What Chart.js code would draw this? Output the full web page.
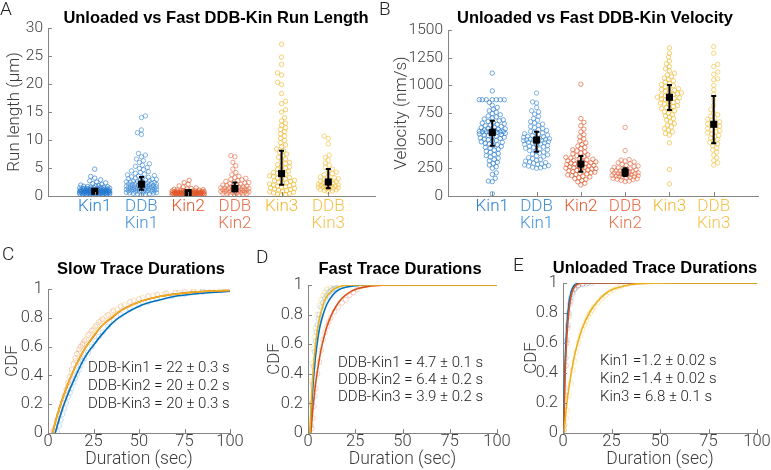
<!DOCTYPE html>
<html><head><meta charset="utf-8">
<script src="https://cdn.jsdelivr.net/npm/chart.js@4.4.1/dist/chart.umd.min.js"></script>
<style>
body{margin:0;background:#fff;width:771px;height:470px;position:relative;overflow:hidden;font-family:Roboto,'Liberation Sans',sans-serif;}
canvas{position:absolute;}
.t{position:absolute;font-family:'Liberation Sans',Arial,sans-serif;font-weight:bold;font-size:16.5px;line-height:1;color:#000;white-space:nowrap;transform:translate(-50%,-50%);}
.l{position:absolute;font-weight:300;font-size:19px;line-height:19px;color:#222;}
.n{position:absolute;font-weight:300;font-size:15px;color:#222;white-space:nowrap;}
</style></head><body>
<canvas id="cA" width="390" height="245" style="left:0;top:0"></canvas>
<canvas id="cB" width="381" height="245" style="left:390px;top:0"></canvas>
<canvas id="cC" width="255" height="230" style="left:0;top:240px"></canvas>
<canvas id="cD" width="255" height="230" style="left:255px;top:240px"></canvas>
<canvas id="cE" width="261" height="230" style="left:510px;top:240px"></canvas>

<div class="l" style="left:0;top:-1px">A</div>
<div class="l" style="left:379px;top:-1px">B</div>
<div class="l" style="left:2px;top:244px">C</div>
<div class="l" style="left:256px;top:247px">D</div>
<div class="l" style="left:513px;top:255px">E</div>

<div class="t" style="left:216px;top:17px">Unloaded vs Fast DDB-Kin Run Length</div>
<div class="t" style="left:595px;top:17px">Unloaded vs Fast DDB-Kin Velocity</div>
<div class="t" style="left:141px;top:268px">Slow Trace Durations</div>
<div class="t" style="left:400px;top:268px">Fast Trace Durations</div>
<div class="t" style="left:655px;top:267px">Unloaded Trace Durations</div>

<div class="n" style="left:88px;top:358px;line-height:18px">DDB-Kin1 = 22 ± 0.3 s<br>DDB-Kin2 = 20 ± 0.2 s<br>DDB-Kin3 = 20 ± 0.3 s</div>
<div class="n" style="left:338px;top:354px;line-height:17px">DDB-Kin1 = 4.7 ± 0.1 s<br>DDB-Kin2 = 6.4 ± 0.2 s<br>DDB-Kin3 = 3.9 ± 0.2 s</div>
<div class="n" style="left:600px;top:351px;line-height:18px">Kin1 =1.2 ± 0.02 s<br>Kin2 =1.4 ± 0.02 s<br>Kin3 = 6.8 ± 0.1 s</div>

<script>
// ---------------- DATA ----------------
const categories = [['Kin1'], ['DDB', 'Kin1'], ['Kin2'], ['DDB', 'Kin2'], ['Kin3'], ['DDB', 'Kin3']];

// Panel A: run length (µm)
const runKin1 = [0.18,0.22,0.25,0.27,0.3,0.31,0.33,0.35,0.36,0.38,0.4,0.41,0.42,0.44,0.45,0.47,0.48,0.5,0.5,0.51,0.53,0.54,0.55,0.57,0.58,0.6,0.6,0.61,0.62,0.64,0.65,0.66,0.68,0.69,0.7,0.7,0.71,0.73,0.74,0.75,0.76,0.78,0.79,0.8,0.8,0.81,0.83,0.84,0.85,0.87,0.88,0.9,0.9,0.91,0.93,0.94,0.96,0.97,0.99,1.0,1.0,1.02,1.03,1.05,1.07,1.09,1.1,1.12,1.14,1.16,1.18,1.2,1.22,1.25,1.27,1.3,1.32,1.35,1.38,1.41,1.45,1.48,1.52,1.56,1.6,1.64,1.69,1.74,1.8,1.88,1.95,2.05,2.2,2.35,2.5,2.7,2.9,3.2,3.5,4.8];
const runDDBKin1 = [0.25,0.3,0.36,0.42,0.47,0.52,0.56,0.6,0.64,0.68,0.72,0.76,0.8,0.84,0.88,0.92,0.95,0.98,1.02,1.05,1.08,1.12,1.15,1.18,1.21,1.25,1.28,1.31,1.34,1.38,1.41,1.44,1.48,1.51,1.54,1.58,1.61,1.64,1.68,1.71,1.75,1.78,1.82,1.86,1.9,1.94,1.98,2.02,2.06,2.1,2.14,2.18,2.23,2.28,2.33,2.38,2.43,2.48,2.54,2.6,2.66,2.72,2.79,2.86,2.93,3.0,3.08,3.16,3.25,3.34,3.44,3.55,3.66,3.78,3.9,4.05,4.2,4.35,4.5,4.7,4.9,5.1,5.3,5.5,5.75,6.0,6.3,6.6,7.0,7.3,7.6,11.0,11.3,11.8,14.0,14.3];
const runKin2 = [0.06,0.09,0.12,0.14,0.16,0.18,0.2,0.21,0.23,0.24,0.26,0.27,0.28,0.3,0.31,0.32,0.33,0.35,0.36,0.37,0.38,0.39,0.4,0.41,0.42,0.43,0.44,0.45,0.46,0.47,0.48,0.49,0.5,0.51,0.52,0.53,0.54,0.55,0.56,0.57,0.58,0.59,0.6,0.61,0.62,0.63,0.65,0.66,0.67,0.69,0.7,0.72,0.73,0.75,0.77,0.79,0.81,0.83,0.85,0.88,0.9,0.93,0.96,1.0,1.04,1.08,1.13,1.19,1.26,1.34,1.45,1.6,1.8,2.1,2.4,2.8];
const runDDBKin2 = [0.15,0.2,0.26,0.32,0.38,0.43,0.48,0.53,0.58,0.62,0.66,0.7,0.74,0.78,0.82,0.86,0.9,0.94,0.98,1.02,1.06,1.1,1.14,1.18,1.22,1.27,1.32,1.37,1.42,1.47,1.53,1.59,1.65,1.72,1.79,1.86,1.94,2.02,2.1,2.2,2.3,2.4,2.5,2.62,2.75,2.88,3.0,3.15,3.3,3.5,3.8,4.2,4.8,5.4,6.0,7.0,7.2];
const runKin3 = [0.15,0.25,0.35,0.45,0.55,0.65,0.75,0.85,0.95,1.05,1.15,1.25,1.35,1.45,1.55,1.65,1.75,1.85,1.95,2.05,2.15,2.25,2.35,2.45,2.6,2.7,2.8,2.95,3.05,3.2,3.3,3.45,3.6,3.75,3.9,4.05,4.2,4.4,4.6,4.8,5.0,5.2,5.4,5.6,5.8,6.0,6.3,6.6,6.9,7.2,7.5,7.8,8.1,8.4,8.8,9.1,9.5,9.9,10.3,10.7,11.1,11.5,11.9,12.2,12.6,13.0,13.4,14.0,15.0,15.4,16.5,16.9,18.3,19.9,20.3,21.6,22.0,23.5,24.8,27.1];
const runDDBKin3 = [0.75,0.9,1.0,1.1,1.18,1.25,1.32,1.4,1.46,1.52,1.6,1.66,1.72,1.8,1.86,1.92,2.0,2.08,2.16,2.24,2.32,2.4,2.5,2.6,2.7,2.82,2.95,3.1,3.25,3.4,3.6,3.8,4.0,4.25,4.5,4.8,5.1,5.5,5.9,6.4,6.9,7.3,9.3,10.3,10.7];
const runMean = [0.84, 2.1, 0.6, 1.35, 4.0, 2.5];
const runLo = [0.55, 1.1, 0.42, 0.8, 2.0, 1.4];
const runHi = [1.1, 3.4, 0.8, 2.4, 8.1, 4.8];

// Panel B: velocity (nm/s)
const velKin1 = [20,130,135,160,195,210,250,265,280,295,305,318,330,342,353,364,375,385,395,405,414,423,432,440,448,456,463,470,477,484,490,496,502,508,514,520,525,530,536,541,546,551,556,561,566,570,574,578,580,580,580,582,585,589,593,597,602,607,612,617,622,628,634,640,646,652,659,666,673,680,688,696,705,714,724,734,745,757,770,785,800,820,845,870,870,870,870,870,870,870,950,1110];
const velDDBKin1 = [250,255,260,265,270,275,280,285,290,296,302,308,315,322,330,338,346,355,364,372,380,388,396,404,411,418,425,432,438,444,450,456,462,467,472,477,482,487,492,497,500,502,505,508,510,513,517,521,525,530,535,540,545,551,557,563,570,577,584,592,600,609,618,628,638,649,660,672,685,700,720,740,760,770,800,840,850,930];
const velKin2 = [100,115,128,140,150,158,165,172,178,184,190,195,200,205,210,215,220,224,228,232,236,240,244,248,252,256,260,264,268,272,276,280,284,288,292,296,300,304,308,312,317,322,327,332,338,344,350,357,364,372,380,389,398,408,418,428,440,452,465,480,497,515,535,555,580,605,635,665,700,1010];
const velDDBKin2 = [130,136,142,147,152,156,160,164,168,171,174,177,180,183,186,189,192,195,198,201,204,207,210,213,216,219,222,225,228,232,236,240,245,250,255,260,266,272,278,285,292,300,308,316,325,330,410,620];
const velKin3 = [110,240,480,550,565,580,595,610,625,640,655,670,685,700,712,724,736,748,760,770,780,790,800,808,816,824,832,840,847,854,861,868,875,882,888,894,900,906,912,918,925,932,939,946,954,962,970,979,988,997,1007,1017,1028,1040,1052,1065,1080,1095,1110,1130,1150,1170,1195,1220,1255,1290,1340];
const velDDBKin3 = [280,300,320,345,370,395,415,435,455,470,485,500,512,524,536,548,560,570,580,590,600,610,620,630,640,650,660,670,682,694,706,720,735,750,780,820,870,920,960,1000,1050,1060,1100,1120,1170,1190,1290,1350];
const velMean = [575, 506, 289, 214, 892, 648];
const velLo = [455, 400, 220, 181, 777, 476];
const velHi = [680, 581, 361, 250, 1003, 903];

// Panels C-E: CDF (duration sec, cumulative fraction)
const cdfTicks = [0, 0.2, 0.4, 0.6, 0.8, 1];
const durTicks = [0, 25, 50, 75, 100];

const slowFitKin1 = [[4,0],[6,0.09],[8,0.17],[10,0.24],[15,0.39],[20,0.52],[25,0.61],[30,0.69],[35,0.76],[40,0.81],[50,0.88],[60,0.92],[70,0.95],[80,0.965],[90,0.976],[100,0.984]];
const slowFitKin2 = [[2.5,0],[5,0.12],[10,0.31],[15,0.46],[20,0.58],[25,0.67],[30,0.75],[35,0.8],[40,0.85],[50,0.91],[60,0.945],[70,0.965],[80,0.978],[90,0.986],[100,0.99]];
const slowFitKin3 = [[2.5,0],[5,0.12],[10,0.31],[15,0.46],[20,0.58],[25,0.675],[30,0.75],[35,0.805],[40,0.85],[50,0.91],[60,0.945],[70,0.965],[80,0.978],[90,0.986],[100,0.99]];
const slowObsKin1 = [[5,0.01],[6,0.05],[7,0.09],[8,0.13],[9,0.17],[10,0.21],[11,0.25],[12,0.28],[13,0.31],[14,0.35],[15,0.38],[16,0.41],[17,0.44],[18,0.47],[19,0.5],[20,0.52],[22,0.56],[24,0.6],[26,0.64],[28,0.67],[30,0.7],[33,0.74],[36,0.78],[40,0.82],[45,0.86],[50,0.89],[55,0.91],[60,0.93],[68,0.95],[75,0.965],[85,0.98],[95,0.99]];
const slowObsKin2 = [[3,0.01],[4,0.04],[5,0.09],[6,0.13],[7,0.17],[8,0.21],[9,0.26],[10,0.3],[11,0.35],[12,0.39],[13,0.44],[14,0.48],[15,0.52],[16,0.55],[17,0.58],[18,0.6],[19,0.62],[20,0.64],[22,0.68],[24,0.71],[26,0.74],[28,0.77],[30,0.79],[33,0.82],[36,0.85],[40,0.88],[45,0.91],[50,0.93],[55,0.95],[60,0.96],[65,0.97],[70,0.975],[75,0.98],[80,0.985],[85,0.99],[90,0.995],[99,1]];
const slowObsKin3 = [[3,0.02],[5,0.08],[7,0.16],[9,0.24],[11,0.33],[13,0.42],[15,0.5],[17,0.56],[19,0.61],[21,0.65],[23,0.69],[25,0.72],[27,0.75],[29,0.78],[32,0.81],[35,0.84],[38,0.86],[42,0.89],[47,0.92],[52,0.94],[58,0.955],[64,0.965],[72,0.975],[80,0.985],[90,0.99]];

const fastFitKin1 = [[1.2,0],[2,0.2],[3,0.38],[4,0.52],[5,0.62],[6,0.7],[8,0.8],[10,0.87],[13,0.93],[16,0.965],[20,0.985],[25,0.995],[30,1],[100,1]];
const fastFitKin2 = [[1.5,0],[2.5,0.15],[4,0.33],[5.5,0.46],[7,0.57],[8.5,0.65],[10,0.72],[12.5,0.8],[15,0.86],[18,0.91],[22,0.95],[26,0.975],[32,0.99],[40,0.998],[50,1],[100,1]];
const fastFitKin3 = [[1,0],[1.5,0.15],[2,0.28],[3,0.47],[4,0.6],[5,0.7],[6,0.77],[7,0.82],[9,0.9],[11,0.94],[14,0.975],[18,0.993],[25,1],[100,1]];
const fastObsKin1 = [[1.5,0.05],[2,0.2],[2.5,0.33],[3,0.45],[3.5,0.55],[4,0.62],[4.5,0.68],[5,0.73],[5.5,0.77],[6,0.8],[7,0.85],[8,0.88],[9,0.91],[10,0.93],[11,0.95],[12,0.96],[13,0.97],[14,0.975],[15,0.98],[17,0.99],[19,0.995],[22,1]];
const fastObsKin2 = [[2,0.03],[2.5,0.1],[3,0.18],[3.5,0.25],[4,0.3],[5,0.4],[6,0.48],[7,0.56],[8,0.63],[9,0.68],[10,0.72],[11,0.75],[12,0.78],[14,0.82],[16,0.85],[18,0.88],[20,0.9],[22,0.93],[24,0.95],[26,0.97],[28,0.99],[30,1]];
const fastObsKin3 = [[1,0.05],[1.5,0.2],[2,0.35],[2.5,0.47],[3,0.57],[3.5,0.65],[4,0.71],[5,0.8],[6,0.86],[7,0.9],[8,0.93],[9,0.95],[10,0.97],[12,0.98],[14,0.99],[16,1]];

const unlFitKin1 = [[0.3,0],[0.8,0.35],[1.3,0.55],[2,0.72],[3,0.86],[4,0.93],[5,0.97],[7,0.995],[9,1],[100,1]];
const unlFitKin2 = [[0.4,0],[1,0.35],[1.6,0.55],[2.4,0.72],[3.4,0.85],[4.5,0.93],[6,0.975],[8,0.995],[10,1],[100,1]];
const unlFitKin3 = [[0.5,0],[2,0.2],[4,0.38],[6,0.52],[8,0.62],[10,0.7],[14,0.81],[18,0.88],[22,0.93],[26,0.96],[30,0.975],[35,0.99],[45,0.998],[60,1],[100,1]];
const unlObsKin1 = [[0.5,0.05],[1,0.3],[1.5,0.5],[2,0.62],[2.5,0.72],[3,0.8],[3.5,0.86],[4,0.9],[5,0.94],[6,0.96],[7,0.975],[8,0.985],[10,0.99],[12,0.995],[15,1]];
const unlObsKin2 = [[0.5,0.02],[1,0.25],[1.5,0.45],[2,0.6],[2.5,0.7],[3,0.78],[4,0.88],[5,0.93],[6,0.96],[8,0.985],[10,0.995],[13,1]];
const unlObsKin3 = [[0.5,0.02],[1,0.06],[1.5,0.1],[2,0.15],[3,0.25],[4,0.33],[5,0.42],[6,0.48],[7,0.54],[8,0.6],[9,0.65],[10,0.69],[11,0.72],[12,0.75],[13,0.78],[14,0.8],[15,0.82],[16,0.84],[18,0.87],[20,0.9],[22,0.92],[24,0.94],[26,0.955],[28,0.97],[30,0.98],[33,0.99],[36,1]];

// ---------------- STYLE ----------------
const FONT = "Roboto, 'Liberation Sans', sans-serif";
const AX = '#858585', TXT = '#3c3c3c';
const BLUE = '#0072BD', RED = '#D95319', YEL = '#EDB120';
const ptCol = ['rgba(35,120,205,0.8)','rgba(55,135,212,0.75)','rgba(222,84,38,0.8)','rgba(228,100,62,0.75)','rgba(240,182,40,0.8)','rgba(244,192,62,0.8)'];
const labCol = ['#2b80d0','#4592d6','#e2582c','#e8714c','#f2b830','#f5c24c'];
const obsCol = ['rgba(60,140,215,0.35)','rgba(225,95,55,0.35)','rgba(240,185,50,0.4)'];

// beeswarm layout (horizontal offsets only, computed from values)
function swarm(vals, pyu, pxc, maxHalf, D) {
  const idx = vals.map((_, i) => i).sort((a, b) => vals[a] - vals[b]);
  const placed = [], off = new Array(vals.length);
  for (const i of idx) {
    const y = vals[i] * pyu;
    let bestX = 0, bestD = -1;
    const flip = placed.length % 2;
    for (let k = 0; k <= maxHalf; k++) {
      const cands = k ? (flip ? [k, -k] : [-k, k]) : [0];
      for (const x of cands) {
        let md = Infinity;
        for (const p of placed) {
          const dy = p.y - y; if (Math.abs(dy) >= D) continue;
          const d = Math.hypot(p.x - x, dy); if (d < md) md = d;
        }
        if (md >= D) { bestX = x; bestD = Infinity; break; }
        if (md > bestD) { bestD = md; bestX = x; }
      }
      if (bestD === Infinity) break;
    }
    placed.push({x: bestX, y}); off[i] = bestX / pxc;
  }
  return off;
}

const inTicks = { id: 'inTicks', afterDraw(chart) {
  const {ctx, chartArea: ca, scales: {x, y}} = chart; const L = 4;
  ctx.save(); ctx.strokeStyle = AX; ctx.lineWidth = 1; ctx.beginPath();
  x.ticks.forEach(t => { const px = Math.round(x.getPixelForValue(t.value)) + 0.5; ctx.moveTo(px, ca.bottom); ctx.lineTo(px, ca.bottom - L); });
  y.ticks.forEach(t => { const py = Math.round(y.getPixelForValue(t.value)) + 0.5; ctx.moveTo(ca.left, py); ctx.lineTo(ca.left + L, py); });
  ctx.stroke(); ctx.restore();
}};

const errBars = { id: 'errBars', afterDatasetsDraw(chart, args, o) {
  if (!o || !o.lo) return;
  const {ctx, scales: {x, y}} = chart;
  ctx.save(); ctx.strokeStyle = '#000'; ctx.lineWidth = 2; ctx.beginPath();
  o.lo.forEach((lo, i) => {
    const px = x.getPixelForValue(i + 1), y1 = y.getPixelForValue(lo), y2 = y.getPixelForValue(o.hi[i]);
    ctx.moveTo(px, y1); ctx.lineTo(px, y2);
    ctx.moveTo(px - 2.5, y1); ctx.lineTo(px + 2.5, y1);
    ctx.moveTo(px - 2.5, y2); ctx.lineTo(px + 2.5, y2);
  });
  ctx.stroke(); ctx.restore();
}};

function yScale(min, max, ticks, title, yw, tpad, tsize) {
  return {
    type: 'linear', min, max,
    afterBuildTicks: s => { s.ticks = ticks.map(v => ({value: v})); },
    afterFit: s => { s.width = yw; s.paddingTop = 0; s.paddingBottom = 0; s.paddingLeft = 0; s.paddingRight = 0; },
    ticks: { padding: 5, color: TXT, font: {family: FONT, size: tsize, weight: 300}, callback: v => String(+(+v).toFixed(2)) },
    grid: { display: false, drawTicks: false },
    border: { display: true, color: AX, width: 1 },
    title: { display: true, text: title, color: TXT, font: {family: FONT, size: 17, weight: 300}, padding: {top: tpad, bottom: 0} }
  };
}

function makeSwarm(id, groups, mean, lo, hi, ymax, ystep, ytitle, yw, tpad, padTop, padRight, widths) {
  const canvas = document.getElementById(id);
  const H = canvas.height, W = canvas.width;
  const plotH = H - padTop - 49, plotW = W - padRight - yw;
  const pyu = plotH / ymax, pxc = plotW / 7;
  const ds = [{ data: mean.map((m, i) => ({x: i + 1, y: m})), pointStyle: 'rect', pointRadius: 5, backgroundColor: '#000', borderColor: '#000', borderWidth: 0 }];
  groups.forEach((g, gi) => {
    const off = swarm(g, pyu, pxc, widths[gi], 4.0);
    ds.push({ data: g.map((v, i) => ({x: gi + 1 + off[i], y: v})), pointStyle: 'circle', pointRadius: 2.2, borderWidth: 0.8, borderColor: ptCol[gi], backgroundColor: 'rgba(0,0,0,0)' });
  });
  const yt = []; for (let v = 0; v <= ymax + 1e-9; v += ystep) yt.push(v);
  new Chart(canvas, {
    type: 'scatter',
    data: { datasets: ds },
    plugins: [inTicks, errBars],
    options: {
      responsive: false, animation: false, events: [],
      layout: { padding: {top: padTop, right: padRight, left: 0, bottom: 0} },
      plugins: { legend: {display: false}, tooltip: {enabled: false}, errBars: {lo, hi} },
      scales: {
        x: {
          type: 'linear', min: 0, max: 7,
          afterBuildTicks: s => { s.ticks = [1, 2, 3, 4, 5, 6].map(v => ({value: v})); },
          afterFit: s => { s.height = 49; s.paddingLeft = 0; s.paddingRight = 0; s.paddingTop = 0; s.paddingBottom = 0; },
          ticks: { autoSkip: false, maxRotation: 0, padding: 2.5, color: c => labCol[c.index], font: {family: FONT, size: 17, weight: 300, lineHeight: 1.0}, callback: (v, i) => categories[i] },
          grid: { display: false, drawTicks: false },
          border: { display: true, color: AX, width: 1 }
        },
        y: yScale(0, ymax, yt, ytitle, yw, tpad, 15.5)
      }
    }
  });
}

makeSwarm('cA', [runKin1, runDDBKin1, runKin2, runDDBKin2, runKin3, runDDBKin3], runMean, runLo, runHi, 30, 5, 'Run length (µm)', 48, 5, 28, 15, [15, 15, 16, 14, 14, 10]);
makeSwarm('cB', [velKin1, velDDBKin1, velKin2, velDDBKin2, velKin3, velDDBKin3], velMean, velLo, velHi, 1500, 250, 'Velocity (nm/s)', 58, 2, 30, 13, [13, 13, 15, 13, 14, 9]);

function makeCdf(id, fits, obs, yw, tpad, padTop, padRight) {
  const ds = [];
  const cols = [BLUE, RED, YEL];
  [2, 1, 0].forEach(k => ds.push({ data: fits[k].map(p => ({x: p[0], y: p[1]})), showLine: true, pointRadius: 0, borderColor: cols[k], borderWidth: 1.6, cubicInterpolationMode: 'monotone', fill: false }));
  [2, 1, 0].forEach(k => ds.push({ data: obs[k].map(p => ({x: p[0], y: p[1]})), pointRadius: 2.5, borderWidth: 0.8, borderColor: obsCol[k], backgroundColor: 'rgba(0,0,0,0)' }));
  new Chart(document.getElementById(id), {
    type: 'scatter',
    data: { datasets: ds },
    plugins: [inTicks],
    options: {
      responsive: false, animation: false, events: [],
      layout: { padding: {top: padTop, right: padRight, left: 0, bottom: 0} },
      plugins: { legend: {display: false}, tooltip: {enabled: false} },
      scales: {
        x: {
          type: 'linear', min: 0, max: 100,
          afterBuildTicks: s => { s.ticks = durTicks.map(v => ({value: v})); },
          afterFit: s => { s.height = 37; s.paddingLeft = 0; s.paddingRight = 0; s.paddingTop = 0; s.paddingBottom = 0; },
          ticks: { autoSkip: false, maxRotation: 0, padding: 1, color: TXT, font: {family: FONT, size: 16.5, weight: 300, lineHeight: 1}, callback: v => String(v) },
          grid: { display: false, drawTicks: false },
          border: { display: true, color: AX, width: 1 },
          title: { display: true, text: 'Duration (sec)', color: TXT, font: {family: FONT, size: 17.5, weight: 300}, padding: {top: 0, bottom: 0} }
        },
        y: yScale(0, 1, cdfTicks, 'CDF', yw, tpad, 16.5)
      }
    }
  });
}

makeCdf('cC', [slowFitKin1, slowFitKin2, slowFitKin3], [slowObsKin1, slowObsKin2, slowObsKin3], 48, 3, 49, 25);
makeCdf('cD', [fastFitKin1, fastFitKin2, fastFitKin3], [fastObsKin1, fastObsKin2, fastObsKin3], 53, 10, 45, 13);
makeCdf('cE', [unlFitKin1, unlFitKin2, unlFitKin3], [unlObsKin1, unlObsKin2, unlObsKin3], 53, 12, 43, 14);
</script>
</body></html>
